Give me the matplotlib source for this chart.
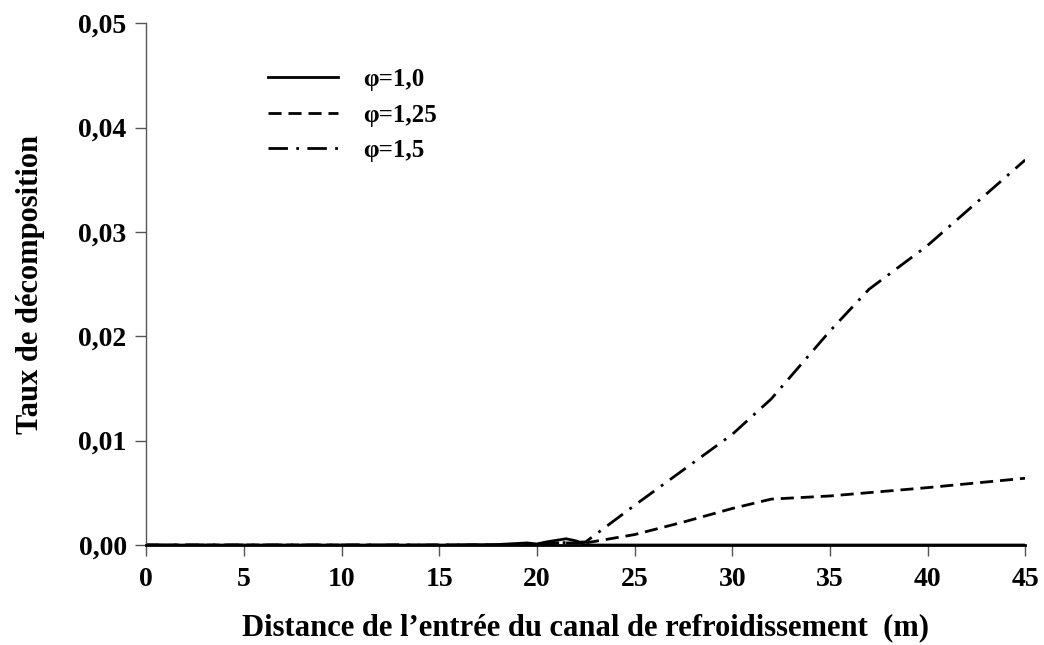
import matplotlib.pyplot as plt
import numpy as np
from matplotlib.ticker import FuncFormatter

plt.rcParams['font.family'] = ['Liberation Serif', 'DejaVu Serif']
plt.rcParams['font.weight'] = 'bold'

# phi = 1,0
x1 = [0, 5, 10, 15, 18, 19.5, 20, 20.5, 21.5, 22, 22.5, 25, 30, 35, 40, 45]
y1 = [0, 0, 0, 0, 0.00005, 0.0002, 0.0001, 0.0003, 0.0006, 0.0004, 0.0, 0, 0, 0, 0, 0]
# phi = 1,25
x2 = [0, 10, 20, 21, 22.5, 25, 27.5, 30, 32, 35, 40, 45]
y2 = [0, 0, 0, 0.0002, 0.0002, 0.001, 0.0022, 0.0035, 0.0044, 0.0047, 0.0055, 0.0064]
# phi = 1,5
x3 = [0, 10, 20, 21, 22.5, 25, 27.5, 30, 32, 35, 37, 40, 45]
y3 = [0, 0, 0, 0.0002, 0.0003, 0.0038, 0.0072, 0.0106, 0.014, 0.0205, 0.0245, 0.0287, 0.0369]

fig = plt.figure(figsize=(10.44, 6.45), dpi=100)
ax = fig.add_axes([0.14, 0.155, 0.842, 0.809])

ax.plot(x1, y1, color='k', lw=2, linestyle='-', label='φ=1,0')
ax.plot(x2, y2, color='k', lw=2, linestyle=(0, (4.7, 2.5)), label='φ=1,25')
ax.plot(x3, y3, color='k', lw=2, linestyle=(0, (7, 3, 1, 3)), label='φ=1,5')

ax.set_xlim(0, 45)
ax.set_ylim(0, 0.05)
ax.set_xticks(np.arange(0, 46, 5))
ax.set_yticks(np.arange(0, 0.051, 0.01))
ax.yaxis.set_major_formatter(FuncFormatter(lambda v, p: f'{v:.2f}'.replace('.', ',')))

for s in ['top', 'right']:
    ax.spines[s].set_visible(False)
ax.spines['left'].set_color('#555555')
ax.spines['left'].set_linewidth(1)
ax.spines['bottom'].set_linewidth(2)
ax.tick_params(axis='x', direction='out', length=8, width=1, colors='#555555',
               labelcolor='k', labelsize=20, pad=8)
ax.tick_params(axis='y', direction='out', length=8, width=1, colors='#555555',
               labelcolor='k', labelsize=20, pad=6)

ax.set_xlabel('Distance de l\u2019entrée du canal de refroidissement  (m)',
              fontsize=22, fontweight='bold', labelpad=15)
ax.set_ylabel('Taux de décomposition', fontsize=22, fontweight='bold', labelpad=24)

leg = ax.legend(loc='upper left', bbox_to_anchor=(0.113, 0.957), frameon=False,
                handlelength=2.8, handletextpad=1.0, labelspacing=0.5,
                prop={'size': 18, 'weight': 'bold'})

plt.savefig('out.png', dpi=100)
